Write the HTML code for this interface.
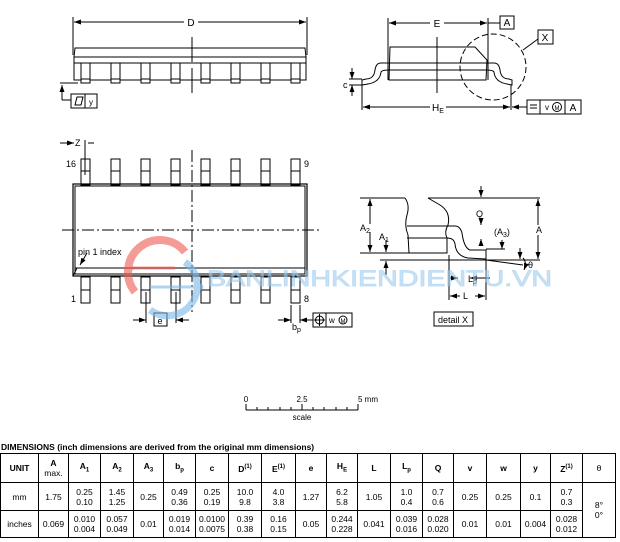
<!DOCTYPE html>
<html><head><meta charset="utf-8"><style>
html,body{margin:0;padding:0;background:#fff;}
svg{display:block;font-family:"Liberation Sans",Arial,sans-serif;}
table{position:absolute;left:0;top:453px;border-collapse:collapse;font-family:"Liberation Sans",Arial,sans-serif;font-size:8.5px;}
td{border:1px solid #000;text-align:center;padding:0;line-height:10px;}
</style></head><body>
<div style="position:relative;width:620px;height:542px;overflow:hidden;">
<svg width="620" height="542" viewBox="0 0 620 542">
<defs>
<marker id="ar" markerWidth="7" markerHeight="5" refX="7" refY="2.5" orient="auto" markerUnits="userSpaceOnUse"><path d="M0,0 L7,2.5 L0,5z" fill="#000"/></marker>
</defs>
<g stroke="#000" fill="none" stroke-width="1">
<line x1="73" y1="17" x2="73" y2="55"/><line x1="307" y1="17" x2="307" y2="55"/>
<line x1="185" y1="22" x2="74" y2="22" marker-end="url(#ar)"/>
<line x1="197" y1="22" x2="306" y2="22" marker-end="url(#ar)"/>
<path d="M75,48 L305,48 L306,57 L74,57 Z"/>
<rect x="74" y="57" width="232" height="6"/>
<path d="M74,63 L74,80 L306,80 L306,63"/>
<line x1="192" y1="37" x2="192" y2="62"/><line x1="192" y1="68" x2="192" y2="93"/>
<line x1="60" y1="83" x2="78" y2="83"/>
<line x1="62" y1="100" x2="62" y2="85" marker-end="url(#ar)"/>
<line x1="62" y1="100" x2="71" y2="100"/>
<rect x="71" y="94" width="26" height="14"/><line x1="85" y1="94" x2="85" y2="108"/>
<path d="M75,105 L77,97 L83,97 L81,105Z"/>
</g>
<g stroke="#000" fill="#fff" stroke-width="1">
<rect x="81" y="63" width="9" height="20"/><rect x="111" y="63" width="9" height="20"/><rect x="141" y="63" width="9" height="20"/><rect x="171" y="63" width="9" height="20"/><rect x="201" y="63" width="9" height="20"/><rect x="231" y="63" width="9" height="20"/><rect x="261" y="63" width="9" height="20"/><rect x="291" y="63" width="9" height="20"/>
</g>
<g stroke="#000" stroke-width="1"><line x1="81" y1="79" x2="90" y2="79"/><line x1="111" y1="79" x2="120" y2="79"/><line x1="141" y1="79" x2="150" y2="79"/><line x1="171" y1="79" x2="180" y2="79"/><line x1="201" y1="79" x2="210" y2="79"/><line x1="231" y1="79" x2="240" y2="79"/><line x1="261" y1="79" x2="270" y2="79"/><line x1="291" y1="79" x2="300" y2="79"/></g>
<rect x="184" y="16" width="14" height="12" fill="#fff"/>
<text x="191" y="26" font-size="10" text-anchor="middle">D</text>
<text x="89" y="105" font-size="8">y</text>

<g stroke="#000" fill="none" stroke-width="1">
<line x1="388" y1="18" x2="388" y2="80"/><line x1="488" y1="18" x2="488" y2="80"/>
<line x1="430" y1="23" x2="389" y2="23" marker-end="url(#ar)"/>
<line x1="444" y1="23" x2="487" y2="23" marker-end="url(#ar)"/>
<line x1="488" y1="23" x2="500" y2="23"/>
<rect x="500" y="16" width="14" height="13"/>
<path d="M390,47 L475,47 L487,60 L486,80 L389,80 Z"/>
<path d="M389,63 L381,63 Q376,63 375,70 Q374,79 366,79 L362,80 L362,85 L368,84 Q380,82 381,72 Q382,70 389,70"/>
<path d="M486,63 L494,63 Q499,63 500,70 Q501,79 509,79 L512,80 L512,85 L507,84 Q495,82 494,72 Q493,70 486,70"/>
<line x1="389" y1="63" x2="486" y2="63"/><line x1="389" y1="70" x2="486" y2="70"/>
<line x1="437" y1="37" x2="437" y2="93"/>
<circle cx="493" cy="67" r="33" stroke-dasharray="6,3"/>
<line x1="523" y1="50" x2="538" y2="39"/>
<rect x="538" y="30" width="15" height="14"/>
<line x1="352" y1="68" x2="352" y2="79" marker-end="url(#ar)"/>
<line x1="352" y1="96" x2="352" y2="85" marker-end="url(#ar)"/>
<line x1="349" y1="79" x2="362" y2="79"/><line x1="349" y1="85" x2="362" y2="85"/>
<line x1="362" y1="85" x2="362" y2="110"/><line x1="511" y1="85" x2="511" y2="110"/>
<line x1="430" y1="107" x2="363" y2="107" marker-end="url(#ar)"/>
<line x1="446" y1="107" x2="510" y2="107" marker-end="url(#ar)"/>
<line x1="527" y1="107" x2="512" y2="107" marker-end="url(#ar)"/>
<rect x="527" y="100" width="54" height="14"/>
<line x1="540" y1="100" x2="540" y2="114"/><line x1="565" y1="100" x2="565" y2="114"/>
<circle cx="557" cy="107" r="4.5"/>
<line x1="530" y1="105" x2="537" y2="105"/><line x1="530" y1="108" x2="537" y2="108"/>
</g>
<text x="437" y="27" font-size="10" text-anchor="middle">E</text>
<text x="507" y="26" font-size="10" text-anchor="middle">A</text>
<text x="545" y="41" font-size="10" text-anchor="middle">X</text>
<text x="343" y="88" font-size="9">c</text>
<text x="432" y="111" font-size="10">H<tspan font-size="7" dy="2">E</tspan></text>
<text x="545" y="110" font-size="8">v</text>
<text x="557" y="110" font-size="6" text-anchor="middle">M</text>
<text x="573" y="111" font-size="10" text-anchor="middle">A</text>

<g stroke="#000" fill="#fff" stroke-width="1">
<rect x="81" y="159" width="9" height="26"/><rect x="111" y="159" width="9" height="26"/><rect x="141" y="159" width="9" height="26"/><rect x="171" y="159" width="9" height="26"/><rect x="201" y="159" width="9" height="26"/><rect x="231" y="159" width="9" height="26"/><rect x="261" y="159" width="9" height="26"/><rect x="291" y="159" width="9" height="26"/>
<rect x="81" y="277" width="9" height="26"/><rect x="111" y="277" width="9" height="26"/><rect x="141" y="277" width="9" height="26"/><rect x="171" y="277" width="9" height="26"/><rect x="201" y="277" width="9" height="26"/><rect x="231" y="277" width="9" height="26"/><rect x="261" y="277" width="9" height="26"/><rect x="291" y="277" width="9" height="26"/>
</g>
<g stroke="#000" fill="none" stroke-width="1">
<path d="M81,171h9M111,171h9M141,171h9M171,171h9M201,171h9M231,171h9M261,171h9M291,171h9M81,290h9M111,290h9M141,290h9M171,290h9M201,290h9M231,290h9M261,290h9M291,290h9"/>
<rect x="73" y="184" width="234" height="92" stroke-width="1.2"/>
<rect x="75" y="186" width="230" height="88"/>
<line x1="75" y1="268" x2="305" y2="268"/>
<line x1="73" y1="276" x2="77" y2="268"/>
<line x1="192" y1="150" x2="192" y2="312" stroke-dasharray="12,3,2,3"/>
<line x1="62" y1="230" x2="320" y2="230" stroke-dasharray="12,3,2,3"/>
<line x1="85" y1="140" x2="85" y2="175"/><line x1="87" y1="253" x2="80" y2="265" marker-end="url(#ar)"/>
<line x1="60" y1="143" x2="74" y2="143" marker-end="url(#ar)"/><line x1="94" y1="143" x2="88" y2="143"/>
<line x1="146" y1="292" x2="146" y2="323"/><line x1="176" y1="292" x2="176" y2="323"/>
<line x1="133" y1="320" x2="146" y2="320" marker-end="url(#ar)"/>
<line x1="189" y1="320" x2="176" y2="320" marker-end="url(#ar)"/>
<rect x="154" y="313" width="13" height="13"/>
<line x1="291" y1="305" x2="291" y2="323"/><line x1="300" y1="305" x2="300" y2="323"/>
<line x1="278" y1="320" x2="291" y2="320" marker-end="url(#ar)"/>
<line x1="313" y1="320" x2="300" y2="320" marker-end="url(#ar)"/>
<rect x="313" y="313" width="39" height="14"/><line x1="326" y1="313" x2="326" y2="327"/>
<circle cx="319.5" cy="320" r="4"/><line x1="314" y1="320" x2="325" y2="320"/><line x1="319.5" y1="314" x2="319.5" y2="326"/>
<circle cx="343" cy="320" r="4"/>
</g>
<text x="75" y="146" font-size="9">Z</text>
<text x="66" y="167" font-size="9">16</text>
<text x="304" y="167" font-size="9">9</text>
<text x="71" y="302" font-size="9">1</text>
<text x="304" y="302" font-size="9">8</text>
<text x="78" y="255" font-size="9">pin 1 index</text>
<text x="160" y="324" font-size="9" text-anchor="middle">e</text>
<text x="292" y="330" font-size="9">b<tspan font-size="7" dy="2">p</tspan></text>
<text x="329" y="323" font-size="8">w</text>
<text x="343" y="323" font-size="6" text-anchor="middle">M</text>

<g stroke="#000" fill="none" stroke-width="1">
<line x1="360" y1="198" x2="405" y2="198"/><line x1="428" y1="198" x2="540" y2="198"/>
<path d="M405,198 Q410,205 407,215 Q404,225 408,235 L409,253 L447,253 L447,238 Q444,232 448,225 Q451,212 440,205 L428,198"/>
<path d="M407,226 L455,226 Q460,226 462,233 Q464,248 470,250 L486,250 L486,259 L468,258 Q456,256 455,244 Q454,238 447,238 L407,238"/>
<line x1="360" y1="253" x2="409" y2="253"/>
<line x1="380" y1="260" x2="540" y2="260"/>
<line x1="486" y1="260" x2="523" y2="265"/>
<line x1="370" y1="224" x2="370" y2="199" marker-end="url(#ar)"/>
<line x1="370" y1="232" x2="370" y2="252" marker-end="url(#ar)"/>
<line x1="386" y1="240" x2="386" y2="252" marker-end="url(#ar)"/>
<line x1="386" y1="275" x2="386" y2="261" marker-end="url(#ar)"/>
<line x1="481" y1="186" x2="481" y2="197" marker-end="url(#ar)"/>
<line x1="481" y1="218" x2="481" y2="225" marker-end="url(#ar)"/>
<line x1="481" y1="245" x2="481" y2="239" marker-end="url(#ar)"/>
<line x1="502" y1="240" x2="502" y2="249" marker-end="url(#ar)"/>
<line x1="486" y1="249" x2="505" y2="249"/>
<line x1="520" y1="248" x2="520" y2="259" marker-end="url(#ar)"/>
<line x1="538" y1="225" x2="538" y2="199" marker-end="url(#ar)"/>
<line x1="538" y1="235" x2="538" y2="259" marker-end="url(#ar)"/>
<line x1="449" y1="255" x2="449" y2="300"/><line x1="486" y1="260" x2="486" y2="300"/>
<line x1="460" y1="296" x2="450" y2="296" marker-end="url(#ar)"/>
<line x1="475" y1="296" x2="485" y2="296" marker-end="url(#ar)"/>
<line x1="450" y1="278" x2="458" y2="278" marker-end="url(#ar)"/>
<line x1="490" y1="278" x2="470" y2="278" marker-end="url(#ar)"/>
<path d="M523,258 Q527,262 524,270" marker-end="url(#ar)"/>
<rect x="434" y="312" width="39" height="14"/>
</g>
<text x="360" y="231" font-size="9">A<tspan font-size="7" dy="2">2</tspan></text>
<text x="379" y="240" font-size="9">A<tspan font-size="7" dy="2">1</tspan></text>
<text x="476" y="217" font-size="9">Q</text>
<text x="494" y="235" font-size="9">(A<tspan font-size="7" dy="2">3</tspan><tspan dy="-2">)</tspan></text>
<text x="536" y="233" font-size="9">A</text>
<text x="528" y="268" font-size="9">θ</text>
<text x="468" y="282" font-size="9">L<tspan font-size="7" dy="2">p</tspan></text>
<text x="463" y="299" font-size="9">L</text>
<text x="453" y="323" font-size="9" text-anchor="middle">detail X</text>

<g opacity="0.6">
<path d="M135,292 A30,30 0 0 1 185,252" stroke="#ee5a4f" stroke-width="8" fill="none"/>
<path d="M185,262 A28,28 0 0 1 150,310" stroke="#7ab8e8" stroke-width="7" fill="none"/>
<line x1="132" y1="268" x2="175" y2="268" stroke="#ee5a4f" stroke-width="3"/>
<line x1="150" y1="287" x2="200" y2="287" stroke="#7ab8e8" stroke-width="3"/>
<circle cx="130" cy="268" r="3.5" fill="#ee5a4f"/><circle cx="200" cy="287" r="3.5" fill="#7ab8e8"/>
<text x="207" y="286" font-size="22" fill="#a6d0f0" stroke="#8cc3ec" stroke-width="0.8" textLength="345" lengthAdjust="spacingAndGlyphs">BANLINHKIENDIENTU.VN</text>
</g>

<g stroke="#000" stroke-width="1">
<line x1="246" y1="410" x2="358" y2="410"/>
<path d="M246,404V410M257,407V410M268,407V410M280,407V410M291,407V410M302,404V410M313,407V410M324,407V410M336,407V410M347,407V410M358,404V410"/>
</g>
<text x="246" y="402" font-size="8" text-anchor="middle">0</text>
<text x="302" y="402" font-size="8" text-anchor="middle">2.5</text>
<text x="358" y="402" font-size="8">5 mm</text>
<text x="302" y="420" font-size="8" text-anchor="middle">scale</text>
<text x="1" y="450" font-size="8.5" font-weight="bold">DIMENSIONS (inch dimensions are derived from the original mm dimensions)</text>
</svg>
<table>
<colgroup><col style="width:38px"><col style="width:30px"><col style="width:32px"><col style="width:33px"><col style="width:30px"><col style="width:32px"><col style="width:33px"><col style="width:33px"><col style="width:34px"><col style="width:31px"><col style="width:31px"><col style="width:33px"><col style="width:32px"><col style="width:31px"><col style="width:33px"><col style="width:34px"><col style="width:30px"><col style="width:32px"><col style="width:33px"></colgroup>
<tr style="height:29px;font-weight:bold"><td>UNIT</td><td>A<br><span style="font-weight:normal">max.</span></td><td>A<sub style="font-size:6px">1</sub></td><td>A<sub style="font-size:6px">2</sub></td><td>A<sub style="font-size:6px">3</sub></td><td>b<sub style="font-size:6px">p</sub></td><td>c</td><td>D<sup style="font-size:6px">(1)</sup></td><td>E<sup style="font-size:6px">(1)</sup></td><td>e</td><td>H<sub style="font-size:6px">E</sub></td><td>L</td><td>L<sub style="font-size:6px">p</sub></td><td>Q</td><td>v</td><td>w</td><td>y</td><td>Z<sup style="font-size:6px">(1)</sup></td><td style="font-weight:normal">θ</td></tr>
<tr style="height:28px"><td>mm</td><td>1.75</td><td>0.25<br>0.10</td><td>1.45<br>1.25</td><td>0.25</td><td>0.49<br>0.36</td><td>0.25<br>0.19</td><td>10.0<br>9.8</td><td>4.0<br>3.8</td><td>1.27</td><td>6.2<br>5.8</td><td>1.05</td><td>1.0<br>0.4</td><td>0.7<br>0.6</td><td>0.25</td><td>0.25</td><td>0.1</td><td>0.7<br>0.3</td><td rowspan="2">8°<br>0°</td></tr>
<tr style="height:27px"><td>inches</td><td>0.069</td><td>0.010<br>0.004</td><td>0.057<br>0.049</td><td>0.01</td><td>0.019<br>0.014</td><td>0.0100<br>0.0075</td><td>0.39<br>0.38</td><td>0.16<br>0.15</td><td>0.05</td><td>0.244<br>0.228</td><td>0.041</td><td>0.039<br>0.016</td><td>0.028<br>0.020</td><td>0.01</td><td>0.01</td><td>0.004</td><td>0.028<br>0.012</td></tr>
</table>
</div>
</body></html>
